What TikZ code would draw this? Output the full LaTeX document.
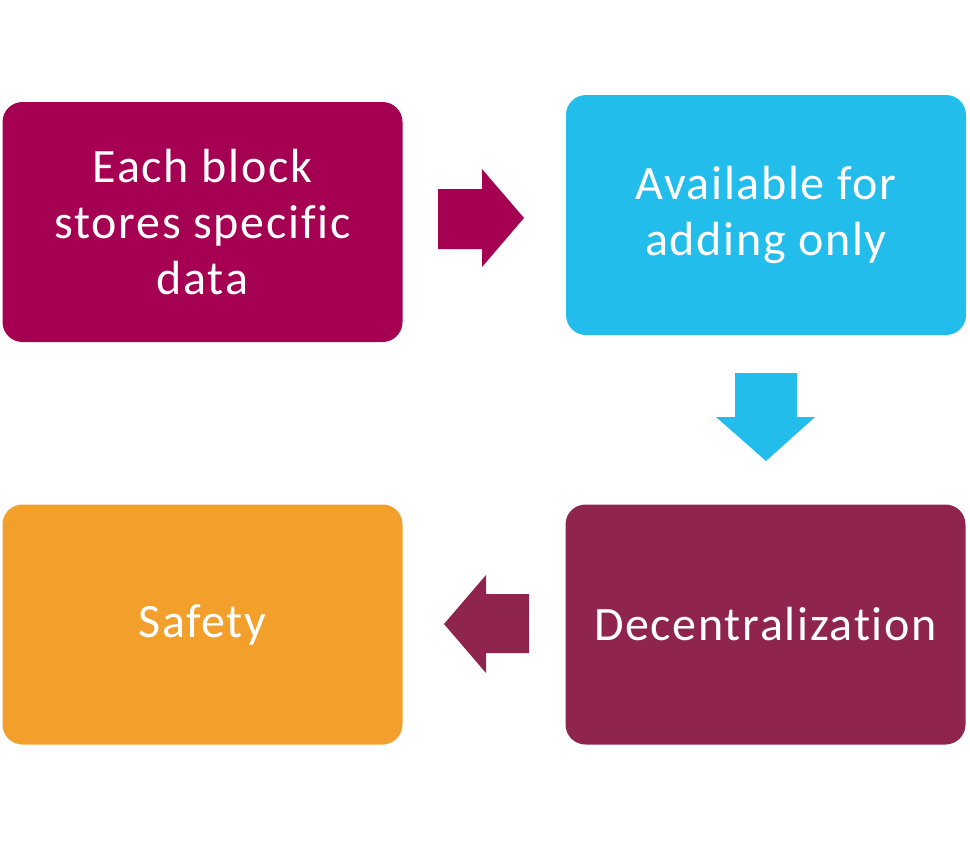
\documentclass[tikz,border=0pt]{standalone}
\usepackage{fontspec}
\setmainfont{Carlito}[LetterSpace=3.5, Ligatures=NoCommon]
\usepackage{tikz}
\usetikzlibrary{positioning}
\definecolor{berry}{RGB}{165,0,82}
\definecolor{sky}{RGB}{35,189,236}
\definecolor{wine}{RGB}{143,37,78}
\definecolor{amber}{RGB}{242,159,44}

\begin{document}
\begin{tikzpicture}[
    x = 0.75pt, y = -0.75pt,
    every node/.style = {text=white, align=center, font=\fontsize{36}{42}\selectfont},
    box/.style = {rounded corners=15pt, minimum width=300pt, minimum height=180pt, inner sep=0pt}
    ]
    \useasboundingbox (0,0) rectangle (970,846);
    % the four steps
    \node[box, fill=berry] (store) at (202.5,222) {Each block\\stores specific\\data};
    \node[box, fill=sky] (append) at (766,215) {Available for\\adding only};
    \node[box, fill=wine] (decentral) at (765.5,624.5) {Decentralization};
    \node[box, fill=amber] (safe) at (202.5,624.5) {Safety};
    % block arrows
    \fill[berry] (438,189) -- (482,189) -- (482,169) -- (524,218) -- (482,267) -- (482,249) -- (438,249) -- cycle;
    \fill[sky] (735,373) -- (797,373) -- (797,417) -- (815,417) -- (766,461) -- (716,417) -- (735,417) -- cycle;
    \fill[wine] (529,594) -- (486,594) -- (486,575) -- (444,624) -- (486,673) -- (486,653) -- (529,653) -- cycle;
\end{tikzpicture}
\end{document}
